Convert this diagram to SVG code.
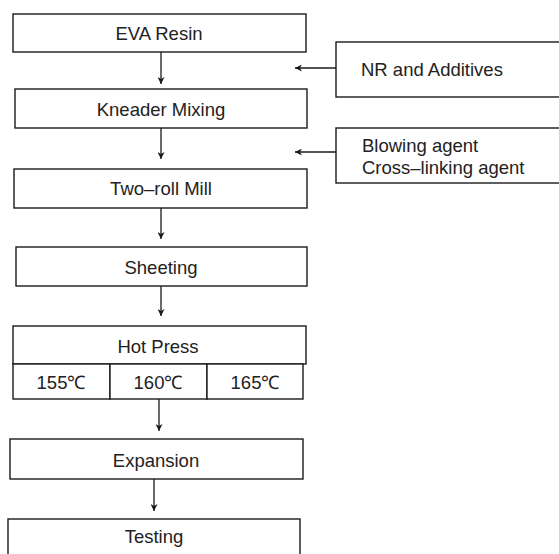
<svg xmlns="http://www.w3.org/2000/svg" width="559" height="554" viewBox="0 0 559 554">
  <style>
    .box { fill: #ffffff; stroke: #1a1a1a; stroke-width: 1.4; }
    .lbl { font-family: "Liberation Sans", Arial, sans-serif; font-size: 18.5px; fill: #222222; text-anchor: middle; }
    .side { font-family: "Liberation Sans", Arial, sans-serif; font-size: 18.5px; fill: #222222; }
    .edge { stroke: #1a1a1a; stroke-width: 1.3; fill: none; marker-end: url(#head); }
  </style>
  <defs>
    <marker id="head" viewBox="0 0 10 10" refX="10" refY="5" markerWidth="7" markerHeight="7" markerUnits="userSpaceOnUse" orient="auto">
      <path d="M0,0 L10,5 L0,10 L3,5 Z" fill="#1a1a1a"/>
    </marker>
  </defs>
  <rect width="559" height="554" fill="#ffffff"/>

  <g id="eva-resin">
    <rect class="box" x="13" y="14" width="293" height="38"/>
    <text class="lbl" x="159" y="40">EVA Resin</text>
  </g>
  <g id="kneader-mixing">
    <rect class="box" x="15" y="89" width="292" height="39"/>
    <text class="lbl" x="161" y="116">Kneader Mixing</text>
  </g>
  <g id="two-roll-mill">
    <rect class="box" x="14" y="169" width="293" height="39"/>
    <text class="lbl" x="161" y="195">Two–roll Mill</text>
  </g>
  <g id="sheeting">
    <rect class="box" x="16" y="247" width="291" height="39"/>
    <text class="lbl" x="161" y="274">Sheeting</text>
  </g>
  <g id="hot-press">
    <rect class="box" x="13" y="326" width="293" height="38"/>
    <text class="lbl" x="158" y="353">Hot Press</text>
    <rect class="box" x="13" y="364" width="97" height="35"/>
    <rect class="box" x="110" y="364" width="97" height="35"/>
    <rect class="box" x="207" y="364" width="96" height="35"/>
    <text class="lbl" x="61" y="389">155℃</text>
    <text class="lbl" x="158" y="389">160℃</text>
    <text class="lbl" x="255" y="389">165℃</text>
  </g>
  <g id="expansion">
    <rect class="box" x="10" y="439" width="293" height="40"/>
    <text class="lbl" x="156" y="467">Expansion</text>
  </g>
  <g id="testing">
    <rect class="box" x="8" y="519" width="292" height="45"/>
    <text class="lbl" x="154" y="543">Testing</text>
  </g>
  <g id="nr-additives">
    <rect class="box" x="336" y="42" width="230" height="55"/>
    <text class="side" x="361" y="76">NR and Additives</text>
  </g>
  <g id="blowing-crosslinking">
    <rect class="box" x="336" y="128" width="230" height="55"/>
    <text class="side" x="362" y="152">Blowing agent</text>
    <text class="side" x="362" y="174">Cross–linking agent</text>
  </g>

  <g id="connectors">
    <line class="edge" x1="161" y1="52" x2="161" y2="84"/>
    <line class="edge" x1="161" y1="128" x2="161" y2="159"/>
    <line class="edge" x1="161" y1="208" x2="161" y2="239"/>
    <line class="edge" x1="161" y1="286" x2="161" y2="316"/>
    <line class="edge" x1="159" y1="399" x2="159" y2="431"/>
    <line class="edge" x1="154" y1="479" x2="154" y2="511"/>
    <line class="edge" x1="336" y1="68" x2="295" y2="68"/>
    <line class="edge" x1="336" y1="152" x2="295" y2="152"/>
  </g>
</svg>
